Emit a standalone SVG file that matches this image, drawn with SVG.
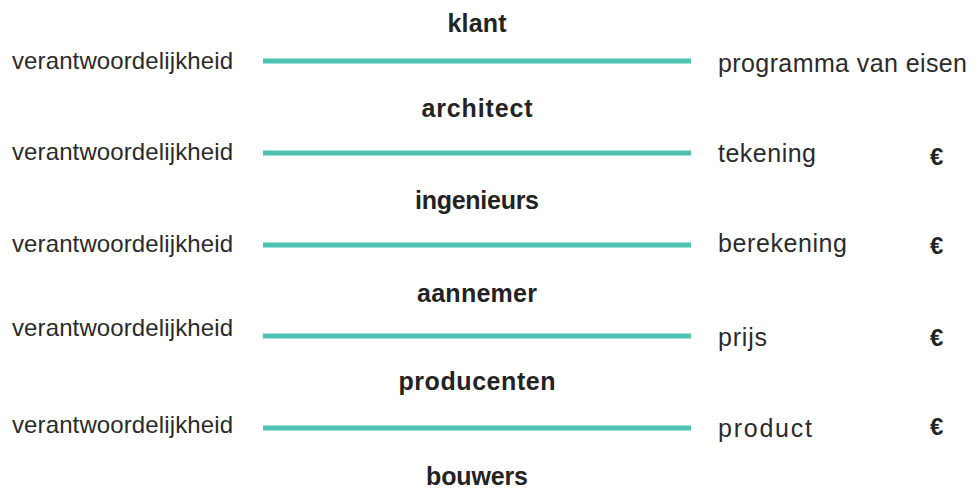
<svg xmlns="http://www.w3.org/2000/svg" width="980" height="490" viewBox="0 0 980 490">
<style>
.bg{fill:#ffffff}
.t{font-family:"Liberation Sans",Arial,sans-serif;font-size:24px;fill:#2b2b2b}
.r{font-family:"Liberation Sans",Arial,sans-serif;font-size:25px;fill:#2b2b2b}
.h{font-family:"Liberation Sans",Arial,sans-serif;font-size:25px;font-weight:bold;fill:#232323;text-anchor:middle}
.e{font-family:"Liberation Sans",Arial,sans-serif;font-size:24px;font-weight:bold;fill:#232323}
.ln{stroke:#4dc2b1;stroke-width:5;fill:none}
</style>
<rect class="bg" x="0" y="0" width="980" height="490"/>
<g id="connectors">
<line class="ln" x1="263" y1="61" x2="691" y2="61"/>
<line class="ln" x1="263" y1="153" x2="691" y2="153"/>
<line class="ln" x1="263" y1="245" x2="691" y2="245"/>
<line class="ln" x1="263" y1="336" x2="691" y2="336"/>
<line class="ln" x1="263" y1="428" x2="691" y2="428"/>
</g>
<g id="klant"><text class="h" x="477" y="32" textLength="59">klant</text></g>
<g id="architect"><text class="h" x="477" y="117" textLength="111">architect</text></g>
<g id="ingenieurs"><text class="h" x="477" y="209" textLength="124">ingenieurs</text></g>
<g id="aannemer"><text class="h" x="477" y="302" textLength="120">aannemer</text></g>
<g id="producenten"><text class="h" x="477" y="390" textLength="157">producenten</text></g>
<g id="bouwers"><text class="h" x="477" y="485" textLength="102">bouwers</text></g>
<g id="row1">
<text class="t" x="12" y="69" textLength="221">verantwoordelijkheid</text>
<text class="r" x="718" y="72" textLength="249">programma van eisen</text>
</g>
<g id="row2">
<text class="t" x="12" y="160" textLength="221">verantwoordelijkheid</text>
<text class="r" x="718" y="162" textLength="98">tekening</text>
<text class="e" x="930" y="165">€</text>
</g>
<g id="row3">
<text class="t" x="12" y="252" textLength="221">verantwoordelijkheid</text>
<text class="r" x="718" y="252" textLength="129">berekening</text>
<text class="e" x="930" y="254">€</text>
</g>
<g id="row4">
<text class="t" x="12" y="336" textLength="221">verantwoordelijkheid</text>
<text class="r" x="718" y="346" textLength="49">prijs</text>
<text class="e" x="930" y="346">€</text>
</g>
<g id="row5">
<text class="t" x="12" y="433" textLength="221">verantwoordelijkheid</text>
<text class="r" x="718" y="437" textLength="94">product</text>
<text class="e" x="930" y="435">€</text>
</g>
</svg>
